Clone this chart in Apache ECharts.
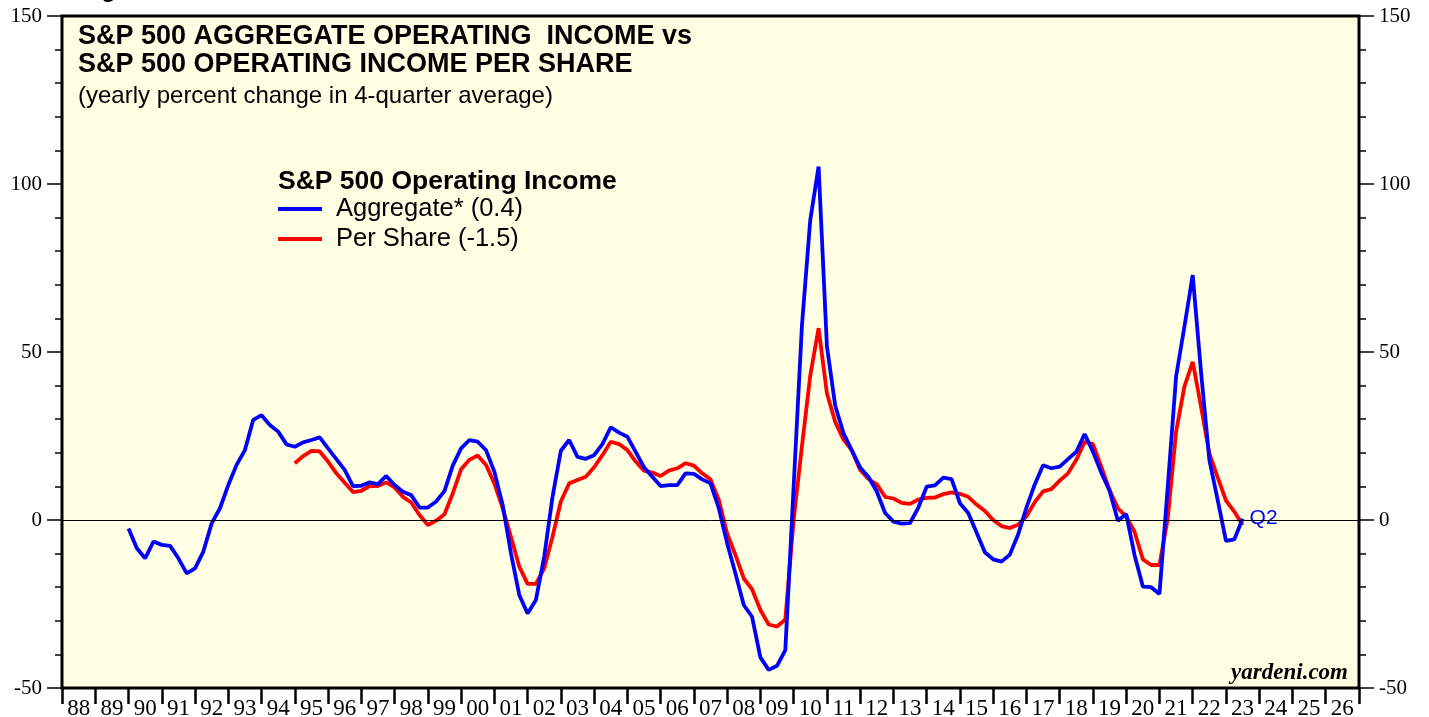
<!DOCTYPE html>
<html>
<head>
<meta charset="utf-8">
<title>S&P 500 Aggregate vs Per Share Operating Income</title>
<script src="https://cdn.jsdelivr.net/npm/echarts@6/dist/echarts.min.js"></script>
<style>
  html, body { margin: 0; padding: 0; background: #fff; }
  #main { width: 1429px; height: 717px; }
</style>
</head>
<body>
<div id="main"></div>
<script>
// year labels under the axis, one per year band (1988 .. 2026)
const yearLabels = ['88', '89', '90', '91', '92', '93', '94', '95', '96', '97', '98', '99',
  '00', '01', '02', '03', '04', '05', '06', '07', '08', '09', '10', '11', '12', '13', '14',
  '15', '16', '17', '18', '19', '20', '21', '22', '23', '24', '25', '26']

// quarterly values, yearly % change in 4-quarter average
const aggStart = 1990.0 // 1989 Q4
const aggregate = [
  -2.5, -8.4, -11.4, -6.4, -7.4, -7.7, -11.4, -15.9, -14.4, -9.4,
  -1.0, 3.5, 10.4, 16.4, 20.8, 29.8, 31.2, 28.3, 26.3, 22.5,
  21.8, 23.1, 23.8, 24.6, 21.3, 18.1, 14.9, 10.1, 10.2, 11.2,
  10.7, 13.1, 10.4, 8.4, 7.4, 3.7, 3.7, 5.5, 8.6, 16.2,
  21.3, 23.8, 23.3, 20.8, 14.4, 4.5, -9.9, -22.3, -27.8, -23.8,
  -10.9, 6.9, 20.6, 23.8, 18.8, 18.2, 19.3, 22.6, 27.6, 26.0,
  24.8, 20.3, 15.7, 12.9, 10.1, 10.4, 10.4, 13.9, 13.7, 12.1,
  10.9, 3.5, -6.9, -15.9, -25.3, -28.8, -40.9, -44.6, -43.4, -38.7,
  10.0, 57.9, 89.3, 105.2, 51.8, 34.0, 25.8, 20.7, 15.6, 12.8,
  8.5, 2.1, -0.5, -1.1, -0.9, 3.7, 9.9, 10.3, 12.6, 12.2,
  5.0, 2.1, -3.7, -9.6, -11.7, -12.4, -10.3, -4.3, 3.7, 10.6,
  16.3, 15.4, 15.9, 18.1, 20.3, 25.6, 20.3, 14.1, 8.7, -0.2,
  1.8, -10.4, -19.8, -20.0, -22.0, 10.0, 42.7, 57.5, 72.9, 44.0,
  17.9, 6.0, -6.2, -5.8, 0.4
]

const perShareStart = 1995.0 // 1994 Q4
const perShare = [
  16.9, 19.0, 20.6, 20.4, 17.4, 13.9, 11.1, 8.3, 8.7, 10.1,
  10.1, 11.2, 9.7, 6.9, 5.2, 1.5, -1.5, -0.2, 1.7, 7.9,
  15.1, 17.9, 19.2, 16.4, 10.9, 3.5, -5.0, -13.9, -19.0, -19.0,
  -14.4, -5.0, 5.5, 10.9, 11.9, 12.9, 15.7, 19.3, 23.3, 22.6,
  20.8, 17.4, 14.7, 14.1, 13.1, 14.7, 15.4, 16.9, 16.2, 13.9,
  12.1, 6.0, -4.0, -10.4, -17.4, -20.6, -26.8, -31.1, -31.7, -29.6,
  0.0, 22.0, 43.0, 57.1, 37.7, 29.2, 23.9, 20.7, 14.9, 12.2,
  10.6, 6.9, 6.4, 5.1, 4.8, 6.1, 6.6, 6.7, 7.7, 8.2,
  7.8, 6.9, 4.6, 2.7, 0.0, -1.8, -2.4, -1.4, 1.1, 5.3,
  8.5, 9.2, 11.7, 13.9, 17.9, 23.3, 22.6, 15.9, 8.9, 3.5,
  1.0, -3.5, -11.7, -13.4, -13.4, 0.5, 26.3, 39.7, 47.1, 33.7,
  19.8, 12.7, 5.8, 2.5, -1.5
]

const toPairs = (start, arr) => arr.map((v, i) => [start + i * 0.25, v])

const SERIF = '"Liberation Serif", "Times New Roman", serif'
const SANS = '"Liberation Sans", Arial, Helvetica, sans-serif'

let chartDom = document.getElementById('main')
let myChart = echarts.init(chartDom, null, {renderer: 'canvas'})

let yAxisBase = {
  type: 'value',
  min: -50,
  max: 150,
  interval: 50,
  axisLine: {show: false},
  splitLine: {show: false},
  axisTick: {show: true, inside: false, length: 15, lineStyle: {color: '#000', width: 1.5}},
  minorTick: {show: true, splitNumber: 5, length: 7, lineStyle: {color: '#000', width: 1.5}},
  axisLabel: {color: '#000', fontFamily: SERIF, fontSize: 21, margin: 20}
}

let option = {
  animation: false,
  backgroundColor: '#ffffff',
  grid: {
    left: 62,
    right: 70,
    top: 16,
    bottom: 29,
    outerBoundsMode: 'none',
    containLabel: false,
    show: true,
    backgroundColor: '#ffffe3',
    borderColor: '#000',
    borderWidth: 3
  },
  xAxis: [
    {
      // year ticks
      type: 'value',
      min: 1988,
      max: 2027,
      interval: 1,
      position: 'bottom',
      axisLine: {show: false, onZero: false},
      splitLine: {show: false},
      axisTick: {show: true, inside: false, length: 16, lineStyle: {color: '#000', width: 2.5}},
      axisLabel: {show: false}
    },
    {
      // year labels centred between ticks
      type: 'category',
      data: yearLabels,
      boundaryGap: true,
      position: 'bottom',
      axisLine: {show: false, onZero: false},
      axisTick: {show: false},
      splitLine: {show: false},
      axisLabel: {color: '#000', fontFamily: SERIF, fontSize: 23, margin: 9, interval: 0}
    }
  ],
  yAxis: [
    Object.assign({position: 'left'}, yAxisBase),
    Object.assign({position: 'right'}, yAxisBase)
  ],
  title: [
    {
      text: 'S&P 500 AGGREGATE OPERATING  INCOME vs\nS&P 500 OPERATING INCOME PER SHARE',
      left: 78,
      top: 23,
      padding: 0,
      textStyle: {fontFamily: SANS, fontSize: 27, fontWeight: 'bold', color: '#000', lineHeight: 28}
    },
    {
      text: '(yearly percent change in 4-quarter average)',
      left: 78,
      top: 84,
      padding: 0,
      textStyle: {fontFamily: SANS, fontSize: 24, fontWeight: 'normal', color: '#000', lineHeight: 24}
    },
    {
      text: 'S&P 500 Operating Income',
      left: 278,
      top: 168,
      padding: 0,
      textStyle: {fontFamily: SANS, fontSize: 26.5, fontWeight: 'bold', color: '#000', lineHeight: 28}
    }
  ],
  legend: {
    orient: 'vertical',
    left: 278,
    top: 196,
    padding: 0,
    itemWidth: 44,
    itemHeight: 4,
    itemGap: 4,
    icon: 'rect',
    data: ['Aggregate* (0.4)', 'Per Share (-1.5)'],
    textStyle: {fontFamily: SANS, fontSize: 25.5, color: '#000', lineHeight: 25, padding: [0, 0, 0, 9]}
  },
  graphic: [
    {
      type: 'text',
      left: 80,
      top: -22,
      style: {text: 'Figure 1.', font: 'bold 24px ' + SANS, fill: '#000'}
    },
    {
      type: 'text',
      right: 81,
      top: 662,
      style: {text: 'yardeni.com', font: 'italic bold 23px ' + SERIF, fill: '#000'}
    }
  ],
  series: [
    {
      name: 'Per Share (-1.5)',
      type: 'line',
      xAxisIndex: 0,
      yAxisIndex: 0,
      data: toPairs(perShareStart, perShare),
      showSymbol: false,
      color: '#ff0000',
      lineStyle: {color: '#ff0000', width: 3.8},
      z: 3,
      markLine: {
        silent: true,
        symbol: 'none',
        label: {show: false},
        lineStyle: {color: '#000', width: 1, type: 'solid'},
        data: [{yAxis: 0}]
      }
    },
    {
      name: 'Aggregate* (0.4)',
      type: 'line',
      xAxisIndex: 0,
      yAxisIndex: 0,
      data: toPairs(aggStart, aggregate),
      showSymbol: false,
      color: '#0000ff',
      lineStyle: {color: '#0000ff', width: 3.8},
      z: 4,
      endLabel: {
        show: true,
        formatter: 'Q2',
        color: '#0000ff',
        fontFamily: SANS,
        fontSize: 21,
        distance: 7
      }
    }
  ]
}

myChart.setOption(option)
</script>
</body>
</html>
